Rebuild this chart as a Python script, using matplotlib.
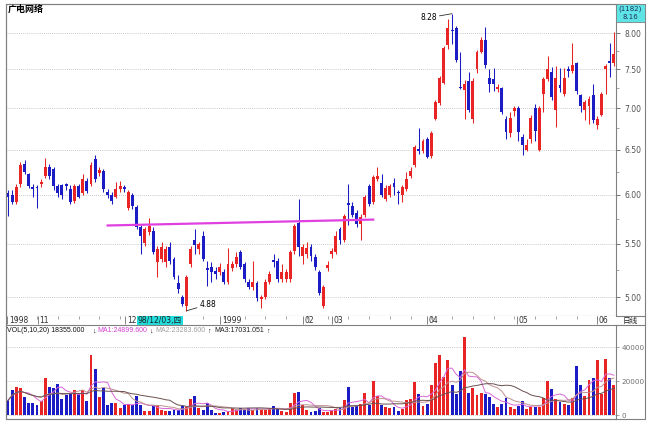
import matplotlib
matplotlib.use("Agg")
import matplotlib.pyplot as plt
from matplotlib.ticker import FixedLocator, NullFormatter
from matplotlib.patches import Rectangle
import numpy as np
import pandas as pd

plt.rcParams['font.family'] = ['DejaVu Sans', 'Noto Sans CJK SC']

# daily bars, 1998-10 .. 1999-06
opens = [6.02, 6.00, 5.92, 6.11, 6.34, 6.22, 6.08, 6.08, 6.11, 6.20,
         6.30, 6.28, 6.09, 6.10, 6.11, 6.06, 5.93, 6.09, 6.02, 6.15,
         6.11, 6.39, 6.24, 6.26, 6.03, 6.00, 5.98, 6.06, 6.08, 5.86,
         6.00, 5.87, 5.66, 5.51, 5.61, 5.62, 5.32, 5.35, 5.32, 5.47,
         5.35, 5.13, 5.00, 4.92, 5.30, 5.54, 5.45, 5.57, 5.27, 5.28,
         5.24, 5.23, 5.23, 5.14, 5.27, 5.30, 5.42, 5.30, 5.14, 5.09,
         5.13, 4.98, 5.00, 5.14, 5.34, 5.33, 5.16, 5.16, 5.16, 5.43,
         5.71, 5.38, 5.40, 5.47, 5.37, 5.23, 4.92, 5.27, 5.40, 5.42,
         5.64, 5.54, 5.91, 5.88, 5.81, 5.69, 5.79, 6.09, 5.92, 6.17,
         6.13, 5.95, 6.00, 6.13, 6.03, 6.00, 6.06, 6.20, 6.33, 6.51,
         6.48, 6.62, 6.43, 6.87, 7.06, 7.32, 7.83, 8.05, 8.07, 7.27,
         7.23, 7.35, 6.86, 7.50, 7.74, 7.90, 7.38, 7.37, 7.24, 7.25,
         6.87, 6.70, 6.96, 7.00, 6.65, 6.50, 6.62, 7.00, 6.50, 7.18,
         7.37, 7.46, 6.98, 7.29, 7.18, 7.50, 7.48, 7.58, 7.16, 6.98,
         7.03, 7.16, 6.79, 6.92, 7.51, 7.61, 7.59]
closes = [5.98, 5.92, 6.08, 6.33, 6.25, 6.09, 6.06, 6.07, 6.14, 6.30,
          6.20, 6.09, 6.02, 6.00, 6.09, 5.92, 6.09, 5.98, 6.17, 6.04,
          6.33, 6.17, 6.27, 6.06, 6.00, 5.93, 6.06, 6.09, 6.06, 6.03,
          5.88, 5.66, 5.57, 5.64, 5.67, 5.42, 5.45, 5.47, 5.45, 5.33,
          5.18, 5.07, 4.94, 5.18, 5.45, 5.49, 5.50, 5.35, 5.25, 5.23,
          5.21, 5.28, 5.14, 5.30, 5.30, 5.37, 5.28, 5.16, 5.09, 5.14,
          4.99, 5.00, 5.14, 5.21, 5.32, 5.16, 5.23, 5.23, 5.42, 5.67,
          5.47, 5.47, 5.46, 5.38, 5.28, 5.04, 5.09, 5.29, 5.43, 5.57,
          5.54, 5.78, 5.89, 5.79, 5.69, 5.77, 5.98, 5.90, 6.19, 6.20,
          6.00, 6.07, 6.09, 6.08, 6.02, 6.08, 6.17, 6.26, 6.53, 6.49,
          6.60, 6.42, 6.70, 7.07, 7.39, 7.79, 8.07, 8.03, 7.63, 7.25,
          7.31, 6.98, 7.35, 7.73, 7.90, 7.56, 7.31, 7.30, 7.27, 6.95,
          6.71, 6.88, 7.00, 6.71, 6.56, 6.56, 6.88, 6.72, 7.00, 7.37,
          7.50, 7.14, 7.39, 7.25, 7.39, 7.48, 7.56, 7.21, 7.02, 7.07,
          7.12, 6.85, 6.86, 7.18, 7.54, 7.59, 7.70]
highs = [6.05, 6.05, 6.12, 6.36, 6.38, 6.24, 6.12, 6.10, 6.17, 6.40,
         6.34, 6.30, 6.12, 6.12, 6.13, 6.10, 6.11, 6.12, 6.22, 6.18,
         6.36, 6.44, 6.30, 6.28, 6.06, 6.03, 6.14, 6.15, 6.10, 6.05,
         6.02, 5.89, 5.68, 5.66, 5.76, 5.66, 5.48, 5.52, 5.48, 5.52,
         5.37, 5.20, 5.02, 5.20, 5.48, 5.64, 5.52, 5.62, 5.33, 5.32,
         5.28, 5.31, 5.26, 5.46, 5.33, 5.42, 5.44, 5.32, 5.16, 5.33,
         5.15, 5.02, 5.16, 5.24, 5.40, 5.36, 5.30, 5.26, 5.44, 5.70,
         5.95, 5.50, 5.52, 5.50, 5.40, 5.25, 5.11, 5.33, 5.46, 5.62,
         5.66, 5.80, 6.11, 5.92, 5.84, 5.80, 6.00, 6.12, 6.21, 6.30,
         6.22, 6.10, 6.11, 6.18, 6.05, 6.10, 6.25, 6.30, 6.56, 6.76,
         6.62, 6.65, 6.72, 7.10, 7.41, 7.82, 8.20, 8.28, 8.10, 7.74,
         7.36, 7.46, 7.38, 7.76, 7.95, 8.08, 7.50, 7.52, 7.30, 7.27,
         6.90, 6.95, 7.02, 7.02, 6.68, 6.62, 6.91, 7.05, 7.02, 7.40,
         7.68, 7.53, 7.55, 7.52, 7.52, 7.55, 7.86, 7.60, 7.18, 7.10,
         7.15, 7.30, 6.90, 7.20, 7.57, 7.86, 8.01]
lows = [5.78, 5.90, 5.90, 6.08, 6.22, 6.07, 5.98, 5.86, 6.08, 6.18,
        6.17, 6.05, 5.98, 5.95, 6.05, 5.90, 5.91, 5.96, 6.00, 6.02,
        6.09, 6.14, 6.20, 6.03, 5.97, 5.90, 5.96, 6.03, 6.03, 5.84,
        5.85, 5.64, 5.40, 5.48, 5.58, 5.40, 5.18, 5.32, 5.28, 5.30,
        5.16, 5.04, 4.92, 4.88, 5.28, 5.40, 5.40, 5.33, 5.10, 5.14,
        5.16, 5.20, 5.12, 5.12, 5.24, 5.28, 5.26, 5.14, 5.07, 5.06,
        4.97, 4.90, 4.98, 5.12, 5.28, 5.14, 5.14, 5.14, 5.14, 5.40,
        5.38, 5.30, 5.36, 5.33, 5.25, 5.02, 4.90, 5.24, 5.36, 5.40,
        5.50, 5.52, 5.68, 5.77, 5.66, 5.54, 5.77, 5.88, 5.90, 6.15,
        5.98, 5.93, 5.98, 6.00, 5.90, 5.92, 6.04, 6.18, 6.30, 6.45,
        6.46, 6.40, 6.41, 6.85, 7.04, 7.30, 7.78, 7.85, 7.60, 7.24,
        6.86, 6.95, 6.82, 7.45, 7.72, 7.52, 7.20, 7.22, 7.20, 6.93,
        6.62, 6.65, 6.90, 6.60, 6.44, 6.48, 6.58, 6.60, 6.48, 6.95,
        7.34, 7.10, 6.77, 7.20, 7.15, 7.40, 7.45, 7.18, 6.95, 6.85,
        6.80, 6.82, 6.74, 6.90, 7.18, 7.40, 7.55]
vols = [8800, 14700, 16600, 16200, 10800, 7400, 7400, 6400, 8400, 22100,
        16600, 16200, 18600, 9400, 11700, 12300, 14700, 12700, 14700, 8400,
        35400, 27400, 10800, 16200, 6400, 7400, 7400, 4500, 6400, 6800,
        5900, 11300, 6000, 2900, 2900, 5900, 5900, 3200, 2500, 2900,
        3500, 3500, 5500, 4900, 9800, 11300, 4500, 3500, 7400, 3500,
        1500, 1500, 2100, 2900, 4100, 3500, 4100, 3500, 4500, 3500,
        4100, 3500, 3500, 4100, 5500, 4500, 2900, 1900, 7400, 13300,
        13700, 6000, 3500, 1900, 2900, 4500, 2200, 2300, 2900, 3800,
        4200, 9100, 16500, 5100, 5700, 6700, 12900, 6300, 20000, 11400,
        6300, 5100, 4400, 5100, 2900, 3800, 9100, 9500, 19400, 12700,
        5700, 7000, 17700, 30400, 35500, 22200, 32300, 17700, 12700, 25700,
        45600, 13300, 16200, 12000, 13300, 12400, 10800, 7000, 4800, 6700,
        10100, 4800, 3800, 5700, 8600, 3800, 4800, 5100, 5100, 10500,
        20000, 15200, 9500, 7600, 6700, 6300, 10500, 29100, 17700, 11400,
        21000, 21900, 32300, 12400, 32900, 21900, 18100]

month_pos = [-0.2, 7.2, 28.3, 51.1, 71.1, 78.1, 101, 122.6, 141.9]
month_labels = ['1998', '11', '12', '1999', '02', '03', '04', '05', '06']
neck_x = [24, 88]
neck_y = [5.68, 5.74]
price_ticks = [5.0, 5.5, 6.0, 6.5, 7.0, 7.5, 8.0]
vol_ticks = [0, 20000, 40000]

RED = '#e82424'
BLUE = '#1c1cc4'
W, H = 650, 425

o = np.array(opens); c = np.array(closes)
h = np.array(highs); l = np.array(lows)
x = np.arange(len(o))
cols = [RED if cc >= oo else BLUE for oo, cc in zip(o, c)]

fig = plt.figure(figsize=(6.5, 4.25), dpi=100)
fig.patch.set_facecolor('white')

def rect(px0, py0, px1, py1):
    return [px0 / W, 1 - py1 / H, (px1 - px0) / W, (py1 - py0) / H]

ax_p = fig.add_axes(rect(6, 4, 616, 316))
ax_d = fig.add_axes(rect(6, 316, 616, 325))
ax_v = fig.add_axes(rect(6, 325, 616, 419))
# overlay in pixel units for frame and captions
bg = fig.add_axes([0, 0, 1, 1], zorder=10)
bg.set_xlim(0, W); bg.set_ylim(H, 0); bg.axis('off')

xl = (-0.48, 146.5)

# price panel
ax_p.set_yscale('log')
ax_p.vlines(x, l, h, colors=cols, lw=0.75, zorder=3)
ax_p.bar(x, np.maximum(np.abs(c - o), 0.012), bottom=np.minimum(o, c), width=0.7,
         color=cols, zorder=4, linewidth=0)
ax_p.plot(neck_x, neck_y, color='#e040e0', lw=1.6, zorder=5)
ax_p.set_xlim(*xl)
ax_p.set_ylim(4.835, 8.424)
ax_p.yaxis.tick_right()
ax_p.yaxis.set_major_locator(FixedLocator(price_ticks))
ax_p.yaxis.set_minor_locator(FixedLocator([5.25, 5.75, 6.25, 6.75, 7.25, 7.75]))
ax_p.yaxis.set_minor_formatter(NullFormatter())
ax_p.set_yticklabels(['%.2f' % t for t in price_ticks])
ax_p.tick_params(axis='y', which='major', labelsize=5.5, length=3, pad=3,
                 colors='#606060', labelcolor='#505050', width=0.6)
ax_p.tick_params(axis='y', which='minor', length=2, colors='#808080', width=0.5)
ax_p.set_xticks([])
ax_p.grid(axis='y', which='major', linestyle=(0, (1, 1.5)), color='#b8b8b8', lw=0.6)
for s in ax_p.spines.values():
    s.set_color('#808080'); s.set_linewidth(0.8)

ax_p.annotate('8.28', xy=(107, 8.28), xytext=(103.3, 8.22), fontsize=5.5, ha='right',
              va='center', arrowprops=dict(arrowstyle='-', color='#303030', lw=0.6,
                                           shrinkA=0, shrinkB=0))
ax_p.annotate('4.88', xy=(43, 4.88), xytext=(46.2, 4.935), fontsize=5.5, ha='left',
              va='center', arrowprops=dict(arrowstyle='-', color='#303030', lw=0.6,
                                           shrinkA=0, shrinkB=0))

# date strip
ax_d.set_xlim(*xl); ax_d.set_ylim(0, 1)
ax_d.set_xticks([]); ax_d.set_yticks([])
for s in ax_d.spines.values():
    s.set_visible(False)
for p in np.arange(2, 147, 5):
    ax_d.vlines(p, 0.72, 1.0, color='#808080', lw=0.5)
for p, lab in zip(month_pos, month_labels):
    ax_d.vlines(p, 0.1, 1.0, color='#707070', lw=0.6)
    ax_d.text(p + 0.4, 0.45, lab, fontsize=5.5, va='center', ha='left', color='#303030')
ax_d.text(31.2, 0.45, '98/12/03,四', fontsize=5.5, va='center', ha='left', color='#202020',
          bbox=dict(boxstyle='square,pad=0.12', fc='#22dede', ec='none'))

# volume panel
ax_v.bar(x, vols, width=0.7, color=cols, linewidth=0, zorder=3)
vs = pd.Series(vols, dtype=float)
ax_v.plot(x, vs.rolling(5, min_periods=1).mean(), color='#d868d8', lw=0.7, zorder=4)
ax_v.plot(x, vs.rolling(10, min_periods=1).mean(), color='#c09090', lw=0.7, zorder=4)
ax_v.plot(x, vs.rolling(20, min_periods=1).mean(), color='#6a5050', lw=0.7, zorder=4)
ax_v.set_xlim(*xl)
ax_v.set_ylim(-2044, 52850)
ax_v.yaxis.tick_right()
ax_v.set_yticks(vol_ticks)
ax_v.set_yticklabels([str(t) for t in vol_ticks])
ax_v.tick_params(axis='y', labelsize=5.2, length=2, pad=2, colors='#808080',
                 labelcolor='#707070', width=0.5)
ax_v.set_xticks([])
ax_v.grid(axis='y', linestyle=(0, (1, 1.5)), color='#b8b8b8', lw=0.6)
ax_v.set_axisbelow(True)
for s in ax_v.spines.values():
    s.set_color('#808080'); s.set_linewidth(0.8)

# frame and captions
bg.add_patch(Rectangle((6, 4), 639, 415, fill=False, ec='#808080', lw=0.8))
bg.plot([616, 645], [316, 316], color='#808080', lw=0.8)
bg.plot([616, 645], [325, 325], color='#808080', lw=0.8)
bg.add_patch(Rectangle((616, 4), 29, 18, fc='#5ee4e4', ec='#808080', lw=0.6))
bg.text(630.5, 9, '(1182)', fontsize=5, ha='center', va='center', color='#203060')
bg.text(630.5, 17, '8.16', fontsize=5, ha='center', va='center', color='#203060')
bg.text(630.5, 320.5, '日线', fontsize=5.5, ha='center', va='center', color='#202020')
bg.text(8, 9, '广电网络', fontsize=6.5, ha='left', va='center', color='#000000',
        fontweight='bold')

vfam = ['Liberation Sans', 'DejaVu Sans']
fs = 5.0
bg.text(7, 331, 'VOL(5,10,20) 18355.000', fontsize=fs, va='center', color='#101010', family=vfam)
bg.text(92, 331, '↓', fontsize=fs, va='center', color='#101010', family=vfam)
bg.text(97, 331, 'MA1:24899.600', fontsize=fs, va='center', color='#d040d0', family=vfam)
bg.text(149, 331, '↓', fontsize=fs, va='center', color='#101010', family=vfam)
bg.text(155, 331, 'MA2:23283.600', fontsize=fs, va='center', color='#a0a0a0', family=vfam)
bg.text(207, 331, '↑', fontsize=fs, va='center', color='#101010', family=vfam)
bg.text(214, 331, 'MA3:17031.051', fontsize=fs, va='center', color='#202020', family=vfam)
bg.text(266, 331, '↑', fontsize=fs, va='center', color='#101010', family=vfam)

fig.savefig('out.png', dpi=100, facecolor='white')
